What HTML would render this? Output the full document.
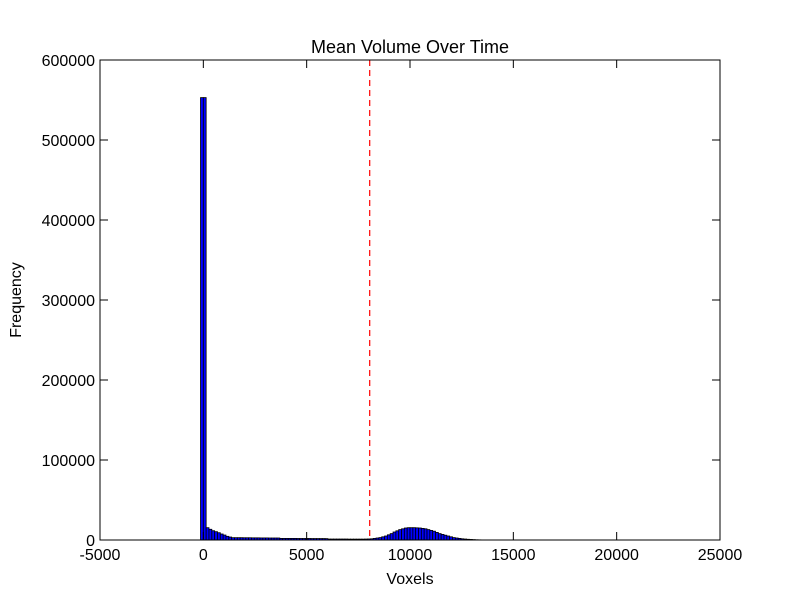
<!DOCTYPE html>
<html><head><meta charset="utf-8"><style>
body{margin:0;background:#fff;}
svg text{font-family:"Liberation Sans",sans-serif;fill:#000;}
</style></head><body>
<svg id="chart" width="800" height="600" xmlns="http://www.w3.org/2000/svg">
<rect width="800" height="600" fill="#fff"/>
<g id="bars"></g>
<g id="ticks"></g>
<line id="thresh" stroke="#ff0000" stroke-width="1.2" stroke-dasharray="6,4"/>
<rect x="100" y="60" width="620" height="480" fill="none" stroke="#000" stroke-width="1"/>
<text x="410" y="53" font-size="18" text-anchor="middle">Mean Volume Over Time</text>
<text x="410" y="584" font-size="16" text-anchor="middle">Voxels</text>
<text x="21" y="300" font-size="16" text-anchor="middle" transform="rotate(-90 21 300)">Frequency</text>
</svg>
<script>
const binStart = -137;
const binWidth = 137;
const counts = [553000,553000,15400,13400,11600,10400,9100,7500,6200,4600,3700,
2900,2900,2900,2900,2800,2800,2800,2700,2700,2700,2600,2600,2600,2500,2500,2500,2500,
2000,2000,2000,2000,2000,2000,1900,1900,1900,1900,1900,1800,1800,1800,1800,1800,1700,
1200,1200,1200,1200,1200,1200,1200,1100,1100,1100,1100,1100,1100,1200,1300,
1500,2000,2500,3000,4000,5000,6500,8000,10000,11500,13000,14000,15000,15400,15400,15400,15200,15000,14500,14000,
13000,12000,11000,9500,8000,7000,6000,5000,4000,3000,2500,2000,1500,1200,900,700,500,300,200,100];
const xTicks = [-5000,0,5000,10000,15000,20000,25000];
const yTicks = [0,100000,200000,300000,400000,500000,600000];
const threshold = 8050;
const xMin=-5000,xMax=25000,yMax=600000;
const X=v=>100+(v-xMin)/(xMax-xMin)*620;
const Y=v=>540-v/yMax*480;
const NS="http://www.w3.org/2000/svg";
const bars=document.getElementById('bars');
counts.forEach((c,i)=>{
  const r=document.createElementNS(NS,'rect');
  const x0=X(binStart+i*binWidth),x1=X(binStart+(i+1)*binWidth);
  r.setAttribute('x',x0);r.setAttribute('width',x1-x0);
  r.setAttribute('y',Y(c));r.setAttribute('height',540-Y(c));
  r.setAttribute('fill','#0000ff');r.setAttribute('stroke','#000');r.setAttribute('stroke-width','0.8');
  
  
  bars.appendChild(r);
});
const tk=document.getElementById('ticks');
function ln(x1,y1,x2,y2){const l=document.createElementNS(NS,'line');l.setAttribute('x1',x1);l.setAttribute('y1',y1);l.setAttribute('x2',x2);l.setAttribute('y2',y2);l.setAttribute('stroke','#000');tk.appendChild(l);}
function tx(x,y,s,a){const t=document.createElementNS(NS,'text');t.setAttribute('x',x);t.setAttribute('y',y);t.setAttribute('font-size','16');t.setAttribute('text-anchor',a);t.textContent=s;


tk.appendChild(t);}
xTicks.forEach(v=>{const x=X(v);ln(x,540,x,532);ln(x,60,x,68);tx(x,560,String(v),'middle');});
yTicks.forEach(v=>{const y=Y(v);ln(100,y,108,y);ln(720,y,712,y);tx(95,y+6,String(v),'end');});
const th=document.getElementById('thresh');
th.setAttribute('x1',X(threshold));th.setAttribute('x2',X(threshold));th.setAttribute('y1',60);th.setAttribute('y2',540);
</script>
</body></html>
